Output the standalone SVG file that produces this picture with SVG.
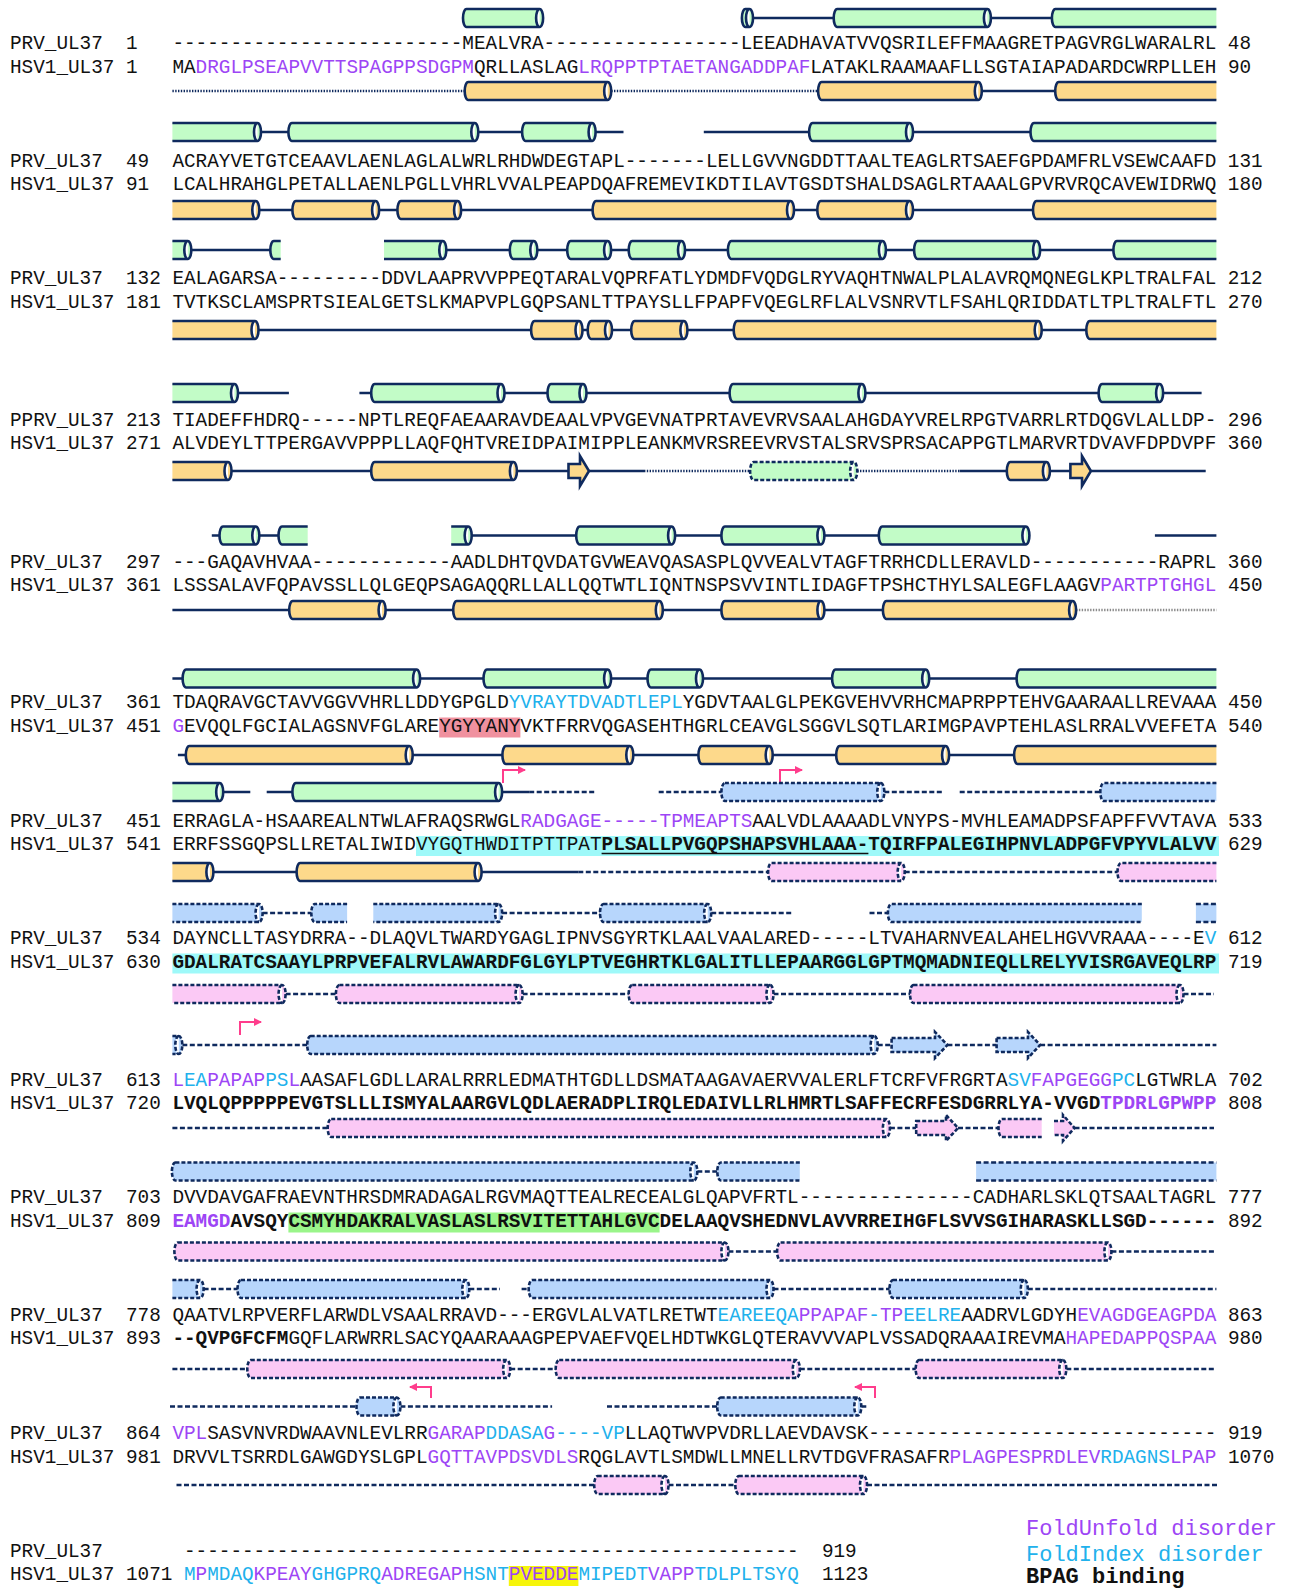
<svg xmlns="http://www.w3.org/2000/svg" width="1292" height="1588" viewBox="0 0 1292 1588">
<style>
.t{font-family:"Liberation Mono","Courier New",monospace;font-size:19.33px;fill:#111}
.lg{font-family:"Liberation Mono","Courier New",monospace;font-size:22px}
.b{font-weight:bold}
.p{fill:#9d45f5}
.c{fill:#21b1ec}
.k{fill:#111}
.g{fill:#c2fcc7;stroke:#0f2a5e;stroke-width:2.6}
.o{fill:#fdd98b;stroke:#0f2a5e;stroke-width:2.6}
.gd{fill:#c2fcc7;stroke:#0f2a5e;stroke-width:2.6;stroke-dasharray:4 2}
.bu{fill:#b7d6fc;stroke:#0f2a5e;stroke-width:2.6;stroke-dasharray:4 2}
.pk{fill:#fbc9f5;stroke:#0f2a5e;stroke-width:2.6;stroke-dasharray:4 2}
.buf{fill:#b7d6fc}
.ln{stroke:#0f2a5e;stroke-width:2.6;fill:none}
.dl{stroke:#0f2a5e;stroke-width:2.6;fill:none;stroke-dasharray:5 2.5}
.dt{stroke:#0f2a5e;stroke-width:2.6;fill:none;stroke-dasharray:1.4 1.4}
.gy{stroke:#8a8a8a;stroke-width:2.4;fill:none;stroke-dasharray:1.4 1.4}
.ar{stroke:#ff3d8c;stroke-width:2;fill:none;marker-end:url(#ah)}
</style>
<defs>
<marker id="ah" markerUnits="userSpaceOnUse" markerWidth="9" markerHeight="9" refX="7" refY="4.5" orient="auto"><path d="M0,0.5 L8,4.5 L0,8.5 Z" fill="#ff3d8c"/></marker>
</defs>

<g id="highlights">
<rect x="439.2" y="717.5" width="81.2" height="20" fill="#f0919f"/>
<rect x="416" y="836" width="803" height="20" fill="#9ef9f9"/>
<rect x="172.4" y="953.5" width="1046.6" height="20" fill="#9ef9f9"/>
<rect x="288.4" y="1212.5" width="371.2" height="20" fill="#9af58a"/>
<rect x="508.8" y="1566" width="69.6" height="20" fill="#f6f50a"/>
</g>

<g id="connectors">
<path class="ln" d="M753,18H834.2M990.9,18H1052.4"/>
<path class="dt" d="M172.4,91H465.2M611.2,91H818.6"/>
<path class="ln" d="M981.8,91H1055.7"/>
<path class="ln" d="M261,132H288.9M478.3,132H522.6M595.6,132H623.5M703.8,132H809.6M913,132H1031"/>
<path class="ln" d="M259.3,210H292.9M379.1,210H397.9M461.1,210H593.1M794,210H817.8M913,210H1033.5"/>
<path class="ln" d="M191.3,250H270.8M446.3,250H510.3M537.3,250H567.7M611.1,250H629.2M685,250H728.4M885.9,250H914.6M1040.1,250H1113.9"/>
<path class="ln" d="M258.5,330H531.6M582.5,330H588.2M612,330H631.7M687.4,330H734.2M1041.7,330H1086.8"/>
<path class="ln" d="M238,393H288.9M359.4,393H371.7M504.5,393H548M586.5,393H730.1M865.4,393H1099.1M1163.1,393H1201.6"/>
<path class="ln" d="M231.5,471H371.7M516.9,471H568.5M589,471H644M959.7,471H1007.3M1049.9,471H1070.4M1090.9,471H1205.7"/>
<path class="dt" d="M644,471H750.6M857.2,471H959.7"/>
<path class="ln" d="M211.8,535.5H220M259.3,535.5H279M471.7,535.5H576.7M675.1,535.5H721.9M824.4,535.5H879.3M1154.9,535.5H1216.4"/>
<path class="ln" d="M172.4,610H289.7M385.6,610H453.7M662.8,610H721.9M824.4,610H883.4"/>
<path class="gy" d="M1076.1,610H1216.4"/>
<path class="ln" d="M172.4,678.5H183.1M420.1,678.5H484M611.1,678.5H648M703,678.5H832.6M929.2,678.5H1017.1"/>
<path class="ln" d="M177.9,755H186.3M412.7,755H502.9M633.3,755H698.9M772.7,755H836.7M949.1,755H1014.6"/>
<path class="ln" d="M223.2,792H250.3M266.7,792H292.9M502.1,792H529.2"/>
<path class="dl" d="M529.2,792H594.8M658.7,792H721.9M884.3,792H941.8M959.7,792H1100.8"/>
<path class="ln" d="M213.4,872H297.1M481.6,872H578.3"/>
<path class="dl" d="M578.3,872H768.6M904.7,872H1118"/>
<path class="dl" d="M262.6,913H311.8M502.1,913H600.5M711.2,913H791.5M869.5,913H888.4"/>
<path class="dl" d="M285.6,994H336.4M522.6,994H629.2M773.5,994H910.5M1183.5,994H1214"/>
<path class="dl" d="M182.3,1045H307.7M877.7,1045H891.6M947.4,1045H996.6M1040.1,1045H1216.4"/>
<path class="dl" d="M172.4,1128H328.2M889.9,1128H916.2M958,1128H999M1074.5,1128H1214"/>
<path class="dl" d="M697.3,1171.5H717.8"/>
<path class="dl" d="M728.4,1251.5H777.6M1111.4,1251.5H1216.4"/>
<path class="dl" d="M203.6,1289H238M469.3,1289H500M521.6,1289H529.2M773.5,1289H890M1027.8,1289H1216.4"/>
<path class="dl" d="M172.4,1369H247.8M510.2,1369H556.2M799.8,1369H916.2M1066.3,1369H1214"/>
<path class="dl" d="M170,1406.5H357M400.4,1406.5H552.1M607,1406.5H717.7M861.3,1406.5H867"/>
<path class="dl" d="M176.5,1485H594.7M668.5,1485H735.8M867,1485H1219"/>
<polyline class="ar" points="503,783 503,770 525,770"/>
<polyline class="ar" points="780,783 780,770 802,770"/>
<polyline class="ar" points="240,1035 240,1022 261,1022"/>
<polyline class="ar" points="431,1398 431,1387 410,1387"/>
<polyline class="ar" points="875,1398 875,1387 855,1387"/>
</g>

<g id="structure1">
<path class="g" d="M466.5,9H539.6A3.5 9 0 0 1 539.6,27H466.5A3.5 9 0 0 1 466.5,9ZM539.6,9A3.5 9 0 0 0 539.6,27"/>
<path class="g" d="M745.4,9H749.5A3.5 9 0 0 1 749.5,27H745.4A3.5 9 0 0 1 745.4,9ZM749.5,9A3.5 9 0 0 0 749.5,27"/>
<path class="g" d="M837.2,9H987.4A3.5 9 0 0 1 987.4,27H837.2A3.5 9 0 0 1 837.2,9ZM987.4,9A3.5 9 0 0 0 987.4,27"/>
<path class="g" d="M1216.4,9H1055.4A3.5 9 0 0 0 1055.4,27H1216.4"/>
<path class="o" d="M468.2,82H607.7A3.5 9 0 0 1 607.7,100H468.2A3.5 9 0 0 1 468.2,82ZM607.7,82A3.5 9 0 0 0 607.7,100"/>
<path class="o" d="M821.6,82H978.3A3.5 9 0 0 1 978.3,100H821.6A3.5 9 0 0 1 821.6,82ZM978.3,82A3.5 9 0 0 0 978.3,100"/>
<path class="o" d="M1216.4,82H1058.7A3.5 9 0 0 0 1058.7,100H1216.4"/>
</g>
<g id="structure2">
<path class="g" d="M172.4,123H257.5A3.5 9 0 0 1 257.5,141H172.4M257.5,123A3.5 9 0 0 0 257.5,141"/>
<path class="g" d="M291.9,123H474.8A3.5 9 0 0 1 474.8,141H291.9A3.5 9 0 0 1 291.9,123ZM474.8,123A3.5 9 0 0 0 474.8,141"/>
<path class="g" d="M525.6,123H592.1A3.5 9 0 0 1 592.1,141H525.6A3.5 9 0 0 1 525.6,123ZM592.1,123A3.5 9 0 0 0 592.1,141"/>
<path class="g" d="M812.6,123H909.5A3.5 9 0 0 1 909.5,141H812.6A3.5 9 0 0 1 812.6,123ZM909.5,123A3.5 9 0 0 0 909.5,141"/>
<path class="g" d="M1216.4,123H1034A3.5 9 0 0 0 1034,141H1216.4"/>
<path class="o" d="M172.4,201H255.8A3.5 9 0 0 1 255.8,219H172.4M255.8,201A3.5 9 0 0 0 255.8,219"/>
<path class="o" d="M295.9,201H375.6A3.5 9 0 0 1 375.6,219H295.9A3.5 9 0 0 1 295.9,201ZM375.6,201A3.5 9 0 0 0 375.6,219"/>
<path class="o" d="M400.9,201H457.6A3.5 9 0 0 1 457.6,219H400.9A3.5 9 0 0 1 400.9,201ZM457.6,201A3.5 9 0 0 0 457.6,219"/>
<path class="o" d="M596.1,201H790.5A3.5 9 0 0 1 790.5,219H596.1A3.5 9 0 0 1 596.1,201ZM790.5,201A3.5 9 0 0 0 790.5,219"/>
<path class="o" d="M820.8,201H909.5A3.5 9 0 0 1 909.5,219H820.8A3.5 9 0 0 1 820.8,201ZM909.5,201A3.5 9 0 0 0 909.5,219"/>
<path class="o" d="M1216.4,201H1036.5A3.5 9 0 0 0 1036.5,219H1216.4"/>
</g>
<g id="structure3">
<path class="g" d="M172.4,241H187.8A3.5 9 0 0 1 187.8,259H172.4M187.8,241A3.5 9 0 0 0 187.8,259"/>
<path class="g" d="M280.7,241H273.8A3.5 9 0 0 0 273.8,259H280.7"/>
<path class="g" d="M384,241H442.8A3.5 9 0 0 1 442.8,259H384M442.8,241A3.5 9 0 0 0 442.8,259"/>
<path class="g" d="M513.3,241H533.8A3.5 9 0 0 1 533.8,259H513.3A3.5 9 0 0 1 513.3,241ZM533.8,241A3.5 9 0 0 0 533.8,259"/>
<path class="g" d="M570.7,241H607.6A3.5 9 0 0 1 607.6,259H570.7A3.5 9 0 0 1 570.7,241ZM607.6,241A3.5 9 0 0 0 607.6,259"/>
<path class="g" d="M632.2,241H681.5A3.5 9 0 0 1 681.5,259H632.2A3.5 9 0 0 1 632.2,241ZM681.5,241A3.5 9 0 0 0 681.5,259"/>
<path class="g" d="M731.4,241H882.4A3.5 9 0 0 1 882.4,259H731.4A3.5 9 0 0 1 731.4,241ZM882.4,241A3.5 9 0 0 0 882.4,259"/>
<path class="g" d="M917.6,241H1036.6A3.5 9 0 0 1 1036.6,259H917.6A3.5 9 0 0 1 917.6,241ZM1036.6,241A3.5 9 0 0 0 1036.6,259"/>
<path class="g" d="M1216.4,241H1116.9A3.5 9 0 0 0 1116.9,259H1216.4"/>
<path class="o" d="M172.4,321H255A3.5 9 0 0 1 255,339H172.4M255,321A3.5 9 0 0 0 255,339"/>
<path class="o" d="M534.6,321H579A3.5 9 0 0 1 579,339H534.6A3.5 9 0 0 1 534.6,321ZM579,321A3.5 9 0 0 0 579,339"/>
<path class="o" d="M591.2,321H608.5A3.5 9 0 0 1 608.5,339H591.2A3.5 9 0 0 1 591.2,321ZM608.5,321A3.5 9 0 0 0 608.5,339"/>
<path class="o" d="M634.7,321H683.9A3.5 9 0 0 1 683.9,339H634.7A3.5 9 0 0 1 634.7,321ZM683.9,321A3.5 9 0 0 0 683.9,339"/>
<path class="o" d="M737.2,321H1038.2A3.5 9 0 0 1 1038.2,339H737.2A3.5 9 0 0 1 737.2,321ZM1038.2,321A3.5 9 0 0 0 1038.2,339"/>
<path class="o" d="M1216.4,321H1089.8A3.5 9 0 0 0 1089.8,339H1216.4"/>
</g>
<g id="structure4">
<path class="g" d="M172.4,384H234.5A3.5 9 0 0 1 234.5,402H172.4M234.5,384A3.5 9 0 0 0 234.5,402"/>
<path class="g" d="M374.7,384H501A3.5 9 0 0 1 501,402H374.7A3.5 9 0 0 1 374.7,384ZM501,384A3.5 9 0 0 0 501,402"/>
<path class="g" d="M551,384H583A3.5 9 0 0 1 583,402H551A3.5 9 0 0 1 551,384ZM583,384A3.5 9 0 0 0 583,402"/>
<path class="g" d="M733.1,384H861.9A3.5 9 0 0 1 861.9,402H733.1A3.5 9 0 0 1 733.1,384ZM861.9,384A3.5 9 0 0 0 861.9,402"/>
<path class="g" d="M1102.1,384H1159.6A3.5 9 0 0 1 1159.6,402H1102.1A3.5 9 0 0 1 1102.1,384ZM1159.6,384A3.5 9 0 0 0 1159.6,402"/>
<path class="o" d="M172.4,462H228A3.5 9 0 0 1 228,480H172.4M228,462A3.5 9 0 0 0 228,480"/>
<path class="o" d="M374.7,462H513.4A3.5 9 0 0 1 513.4,480H374.7A3.5 9 0 0 1 374.7,462ZM513.4,462A3.5 9 0 0 0 513.4,480"/>
<path class="o" d="M568.5,464H580V456L589,471L580,486V478H568.5Z"/>
<path class="gd" d="M753.6,462H853.7A3.5 9 0 0 1 853.7,480H753.6A3.5 9 0 0 1 753.6,462ZM853.7,462A3.5 9 0 0 0 853.7,480"/>
<path class="o" d="M1010.3,462H1046.4A3.5 9 0 0 1 1046.4,480H1010.3A3.5 9 0 0 1 1010.3,462ZM1046.4,462A3.5 9 0 0 0 1046.4,480"/>
<path class="o" d="M1070.4,464H1082V456L1090.9,471L1082,486V478H1070.4Z"/>
</g>
<g id="structure5">
<path class="g" d="M223,526.5H255.8A3.5 9 0 0 1 255.8,544.5H223A3.5 9 0 0 1 223,526.5ZM255.8,526.5A3.5 9 0 0 0 255.8,544.5"/>
<path class="g" d="M307.7,526.5H282A3.5 9 0 0 0 282,544.5H307.7"/>
<path class="g" d="M451.2,526.5H468.2A3.5 9 0 0 1 468.2,544.5H451.2M468.2,526.5A3.5 9 0 0 0 468.2,544.5"/>
<path class="g" d="M579.7,526.5H671.6A3.5 9 0 0 1 671.6,544.5H579.7A3.5 9 0 0 1 579.7,526.5ZM671.6,526.5A3.5 9 0 0 0 671.6,544.5"/>
<path class="g" d="M724.9,526.5H820.9A3.5 9 0 0 1 820.9,544.5H724.9A3.5 9 0 0 1 724.9,526.5ZM820.9,526.5A3.5 9 0 0 0 820.9,544.5"/>
<path class="g" d="M882.3,526.5H1025.9A3.5 9 0 0 1 1025.9,544.5H882.3A3.5 9 0 0 1 882.3,526.5ZM1025.9,526.5A3.5 9 0 0 0 1025.9,544.5"/>
<path class="o" d="M292.7,601H382.1A3.5 9 0 0 1 382.1,619H292.7A3.5 9 0 0 1 292.7,601ZM382.1,601A3.5 9 0 0 0 382.1,619"/>
<path class="o" d="M456.7,601H659.3A3.5 9 0 0 1 659.3,619H456.7A3.5 9 0 0 1 456.7,601ZM659.3,601A3.5 9 0 0 0 659.3,619"/>
<path class="o" d="M724.9,601H820.9A3.5 9 0 0 1 820.9,619H724.9A3.5 9 0 0 1 724.9,601ZM820.9,601A3.5 9 0 0 0 820.9,619"/>
<path class="o" d="M886.4,601H1072.6A3.5 9 0 0 1 1072.6,619H886.4A3.5 9 0 0 1 886.4,601ZM1072.6,601A3.5 9 0 0 0 1072.6,619"/>
</g>
<g id="structure6">
<path class="g" d="M186.1,669.5H416.6A3.5 9 0 0 1 416.6,687.5H186.1A3.5 9 0 0 1 186.1,669.5ZM416.6,669.5A3.5 9 0 0 0 416.6,687.5"/>
<path class="g" d="M487,669.5H607.6A3.5 9 0 0 1 607.6,687.5H487A3.5 9 0 0 1 487,669.5ZM607.6,669.5A3.5 9 0 0 0 607.6,687.5"/>
<path class="g" d="M651,669.5H699.5A3.5 9 0 0 1 699.5,687.5H651A3.5 9 0 0 1 651,669.5ZM699.5,669.5A3.5 9 0 0 0 699.5,687.5"/>
<path class="g" d="M835.6,669.5H925.7A3.5 9 0 0 1 925.7,687.5H835.6A3.5 9 0 0 1 835.6,669.5ZM925.7,669.5A3.5 9 0 0 0 925.7,687.5"/>
<path class="g" d="M1216.4,669.5H1020.1A3.5 9 0 0 0 1020.1,687.5H1216.4"/>
<path class="o" d="M189.3,746H409.2A3.5 9 0 0 1 409.2,764H189.3A3.5 9 0 0 1 189.3,746ZM409.2,746A3.5 9 0 0 0 409.2,764"/>
<path class="o" d="M505.9,746H629.8A3.5 9 0 0 1 629.8,764H505.9A3.5 9 0 0 1 505.9,746ZM629.8,746A3.5 9 0 0 0 629.8,764"/>
<path class="o" d="M701.9,746H769.2A3.5 9 0 0 1 769.2,764H701.9A3.5 9 0 0 1 701.9,746ZM769.2,746A3.5 9 0 0 0 769.2,764"/>
<path class="o" d="M839.7,746H945.6A3.5 9 0 0 1 945.6,764H839.7A3.5 9 0 0 1 839.7,746ZM945.6,746A3.5 9 0 0 0 945.6,764"/>
<path class="o" d="M1216.4,746H1017.6A3.5 9 0 0 0 1017.6,764H1216.4"/>
</g>
<g id="structure7">
<path class="g" d="M172.4,783H219.7A3.5 9 0 0 1 219.7,801H172.4M219.7,783A3.5 9 0 0 0 219.7,801"/>
<path class="g" d="M295.9,783H498.6A3.5 9 0 0 1 498.6,801H295.9A3.5 9 0 0 1 295.9,783ZM498.6,783A3.5 9 0 0 0 498.6,801"/>
<path class="bu" d="M724.9,783H880.8A3.5 9 0 0 1 880.8,801H724.9A3.5 9 0 0 1 724.9,783ZM880.8,783A3.5 9 0 0 0 880.8,801"/>
<path class="bu" d="M1216.4,783H1103.8A3.5 9 0 0 0 1103.8,801H1216.4"/>
<path class="o" d="M172.4,863H209.9A3.5 9 0 0 1 209.9,881H172.4M209.9,863A3.5 9 0 0 0 209.9,881"/>
<path class="o" d="M300.1,863H478.1A3.5 9 0 0 1 478.1,881H300.1A3.5 9 0 0 1 300.1,863ZM478.1,863A3.5 9 0 0 0 478.1,881"/>
<path class="pk" d="M771.6,863H901.2A3.5 9 0 0 1 901.2,881H771.6A3.5 9 0 0 1 771.6,863ZM901.2,863A3.5 9 0 0 0 901.2,881"/>
<path class="pk" d="M1216.4,863H1121A3.5 9 0 0 0 1121,881H1216.4"/>
</g>
<g id="structure8">
<path class="bu" d="M172.4,904H259.1A3.5 9 0 0 1 259.1,922H172.4M259.1,904A3.5 9 0 0 0 259.1,922"/>
<path class="bu" d="M347.1,904H314.8A3.5 9 0 0 0 314.8,922H347.1"/>
<path class="bu" d="M373.3,904H498.6A3.5 9 0 0 1 498.6,922H373.3M498.6,904A3.5 9 0 0 0 498.6,922"/>
<path class="bu" d="M603.5,904H707.7A3.5 9 0 0 1 707.7,922H603.5A3.5 9 0 0 1 603.5,904ZM707.7,904A3.5 9 0 0 0 707.7,922"/>
<path class="bu" d="M1141.8,904H891.4A3.5 9 0 0 0 891.4,922H1141.8"/>
<rect class="buf" x="1195.9" y="904" width="20.5" height="18"/>
<path class="dl" d="M1195.9,904H1216.4M1195.9,922H1216.4"/>
<path class="pk" d="M172.4,985H282.1A3.5 9 0 0 1 282.1,1003H172.4M282.1,985A3.5 9 0 0 0 282.1,1003"/>
<path class="pk" d="M339.4,985H519.1A3.5 9 0 0 1 519.1,1003H339.4A3.5 9 0 0 1 339.4,985ZM519.1,985A3.5 9 0 0 0 519.1,1003"/>
<path class="pk" d="M632.2,985H770A3.5 9 0 0 1 770,1003H632.2A3.5 9 0 0 1 632.2,985ZM770,985A3.5 9 0 0 0 770,1003"/>
<path class="pk" d="M913.5,985H1180A3.5 9 0 0 1 1180,1003H913.5A3.5 9 0 0 1 913.5,985ZM1180,985A3.5 9 0 0 0 1180,1003"/>
</g>
<g id="structure9">
<path class="bu" d="M172.4,1036H178.8A3.5 9 0 0 1 178.8,1054H172.4M178.8,1036A3.5 9 0 0 0 178.8,1054"/>
<path class="bu" d="M310.7,1036H874.2A3.5 9 0 0 1 874.2,1054H310.7A3.5 9 0 0 1 310.7,1036ZM874.2,1036A3.5 9 0 0 0 874.2,1054"/>
<path class="bu" d="M891.6,1038H935V1032L947.4,1045L935,1058V1052H891.6Z"/>
<path class="bu" d="M996.6,1038H1028V1032L1040.1,1045L1028,1058V1052H996.6Z"/>
<path class="pk" d="M331.2,1119H886.4A3.5 9 0 0 1 886.4,1137H331.2A3.5 9 0 0 1 331.2,1119ZM886.4,1119A3.5 9 0 0 0 886.4,1137"/>
<path class="pk" d="M916.2,1121H946V1115L958,1128L946,1141V1135H916.2Z"/>
<path class="pk" d="M1041.7,1119H1002A3.5 9 0 0 0 1002,1137H1041.7"/>
<path class="pk" d="M1054,1121H1063V1115L1074.5,1128L1063,1141V1135H1054"/>
</g>
<g id="structure10">
<path class="bu" d="M175.4,1162.5H693.8A3.5 9 0 0 1 693.8,1180.5H175.4A3.5 9 0 0 1 175.4,1162.5ZM693.8,1162.5A3.5 9 0 0 0 693.8,1180.5"/>
<path class="bu" d="M799.8,1162.5H720.8A3.5 9 0 0 0 720.8,1180.5H799.8"/>
<rect class="buf" x="976.1" y="1162.5" width="240.3" height="18"/>
<path class="dl" d="M976.1,1162.5H1216.4M976.1,1180.5H1216.4"/>
<path class="pk" d="M177.9,1242.5H724.9A3.5 9 0 0 1 724.9,1260.5H177.9A3.5 9 0 0 1 177.9,1242.5ZM724.9,1242.5A3.5 9 0 0 0 724.9,1260.5"/>
<path class="pk" d="M780.6,1242.5H1107.9A3.5 9 0 0 1 1107.9,1260.5H780.6A3.5 9 0 0 1 780.6,1242.5ZM1107.9,1242.5A3.5 9 0 0 0 1107.9,1260.5"/>
</g>
<g id="structure11">
<path class="bu" d="M172.4,1280H200.1A3.5 9 0 0 1 200.1,1298H172.4M200.1,1280A3.5 9 0 0 0 200.1,1298"/>
<path class="bu" d="M241,1280H465.8A3.5 9 0 0 1 465.8,1298H241A3.5 9 0 0 1 241,1280ZM465.8,1280A3.5 9 0 0 0 465.8,1298"/>
<path class="bu" d="M532.2,1280H770A3.5 9 0 0 1 770,1298H532.2A3.5 9 0 0 1 532.2,1280ZM770,1280A3.5 9 0 0 0 770,1298"/>
<path class="bu" d="M893,1280H1024.3A3.5 9 0 0 1 1024.3,1298H893A3.5 9 0 0 1 893,1280ZM1024.3,1280A3.5 9 0 0 0 1024.3,1298"/>
<path class="pk" d="M250.8,1360H506.7A3.5 9 0 0 1 506.7,1378H250.8A3.5 9 0 0 1 250.8,1360ZM506.7,1360A3.5 9 0 0 0 506.7,1378"/>
<path class="pk" d="M559.2,1360H796.3A3.5 9 0 0 1 796.3,1378H559.2A3.5 9 0 0 1 559.2,1360ZM796.3,1360A3.5 9 0 0 0 796.3,1378"/>
<path class="pk" d="M919.2,1360H1062.8A3.5 9 0 0 1 1062.8,1378H919.2A3.5 9 0 0 1 919.2,1360ZM1062.8,1360A3.5 9 0 0 0 1062.8,1378"/>
</g>
<g id="structure12">
<path class="bu" d="M360,1397.5H396.9A3.5 9 0 0 1 396.9,1415.5H360A3.5 9 0 0 1 360,1397.5ZM396.9,1397.5A3.5 9 0 0 0 396.9,1415.5"/>
<path class="bu" d="M720.7,1397.5H857.8A3.5 9 0 0 1 857.8,1415.5H720.7A3.5 9 0 0 1 720.7,1397.5ZM857.8,1397.5A3.5 9 0 0 0 857.8,1415.5"/>
<path class="pk" d="M597.7,1476H665A3.5 9 0 0 1 665,1494H597.7A3.5 9 0 0 1 597.7,1476ZM665,1476A3.5 9 0 0 0 665,1494"/>
<path class="pk" d="M738.8,1476H863.5A3.5 9 0 0 1 863.5,1494H738.8A3.5 9 0 0 1 738.8,1476ZM863.5,1476A3.5 9 0 0 0 863.5,1494"/>
</g>

<g id="sequences">
<text class="t" x="10" y="49" xml:space="preserve">PRV_UL37  1   -------------------------MEALVRA-----------------LEEADHAVATVVQSRILEFFMAAGRETPAGVRGLWARALRL 48</text>
<text class="t" x="10" y="72.5" xml:space="preserve">HSV1_UL37 1   MA<tspan class="p">DRGLPSEAPVVTTSPAGPPSDGPM</tspan>QRLLASLAG<tspan class="p">LRQPPTPTAETANGADDPAF</tspan>LATAKLRAAMAAFLLSGTAIAPADARDCWRPLLEH 90</text>
<text class="t" x="10" y="166.5" xml:space="preserve">PRV_UL37  49  ACRAYVETGTCEAAVLAENLAGLALWRLRHDWDEGTAPL-------LELLGVVNGDDTTAALTEAGLRTSAEFGPDAMFRLVSEWCAAFD 131</text>
<text class="t" x="10" y="190" xml:space="preserve">HSV1_UL37 91  LCALHRAHGLPETALLAENLPGLLVHRLVVALPEAPDQAFREMEVIKDTILAVTGSDTSHALDSAGLRTAAALGPVRVRQCAVEWIDRWQ 180</text>
<text class="t" x="10" y="284" xml:space="preserve">PRV_UL37  132 EALAGARSA---------DDVLAAPRVVPPEQTARALVQPRFATLYDMDFVQDGLRYVAQHTNWALPLALAVRQMQNEGLKPLTRALFAL 212</text>
<text class="t" x="10" y="307.5" xml:space="preserve">HSV1_UL37 181 TVTKSCLAMSPRTSIEALGETSLKMAPVPLGQPSANLTTPAYSLLFPAPFVQEGLRFLALVSNRVTLFSAHLQRIDDATLTPLTRALFTL 270</text>
<text class="t" x="10" y="425.5" xml:space="preserve">PPRV_UL37 213 TIADEFFHDRQ-----NPTLREQFAEAARAVDEAALVPVGEVNATPRTAVEVRVSAALAHGDAYVRELRPGTVARRLRTDQGVLALLDP- 296</text>
<text class="t" x="10" y="449" xml:space="preserve">HSV1_UL37 271 ALVDEYLTTPERGAVVPPPLLAQFQHTVREIDPAIMIPPLEANKMVRSREEVRVSTALSRVSPRSACAPPGTLMARVRTDVAVFDPDVPF 360</text>
<text class="t" x="10" y="567.5" xml:space="preserve">PRV_UL37  297 ---GAQAVHVAA------------AADLDHTQVDATGVWEAVQASASPLQVVEALVTAGFTRRHCDLLERAVLD-----------RAPRL 360</text>
<text class="t" x="10" y="591" xml:space="preserve">HSV1_UL37 361 LSSSALAVFQPAVSSLLQLGEQPSAGAQQRLLALLQQTWTLIQNTNSPSVVINTLIDAGFTPSHCTHYLSALEGFLAAGV<tspan class="p">PARTPTGHGL</tspan> 450</text>
<text class="t" x="10" y="708" xml:space="preserve">PRV_UL37  361 TDAQRAVGCTAVVGGVVHRLLDDYGPGLD<tspan class="c">YVRAYTDVADTLEPL</tspan>YGDVTAALGLPEKGVEHVVRHCMAPRPPTEHVGAARAALLREVAAA 450</text>
<text class="t" x="10" y="731.5" xml:space="preserve">HSV1_UL37 451 <tspan class="p">G</tspan>EVQQLFGCIALAGSNVFGLAREYGYYANYVKTFRRVQGASEHTHGRLCEAVGLSGGVLSQTLARIMGPAVPTEHLASLRRALVVEFETA 540</text>
<text class="t" x="10" y="826.5" xml:space="preserve">PRV_UL37  451 ERRAGLA-HSAAREALNTWLAFRAQSRWGL<tspan class="p">RADGAGE-----TPMEAPTS</tspan>AALVDLAAAADLVNYPS-MVHLEAMADPSFAPFFVVTAVA 533</text>
<text class="t" x="10" y="850" xml:space="preserve">HSV1_UL37 541 ERRFSSGQPSLLRETALIWIDVYGQTHWDITPTTPAT<tspan class="b">PLSALLPVGQPSHAPSVHLAAA-TQIRFPALEGIHPNVLADPGFVPYVLALVV</tspan> 629</text>
<line x1="601.6" y1="853.5" x2="868.4" y2="853.5" stroke="#111" stroke-width="1.6"/>
<text class="t" x="10" y="944" xml:space="preserve">PRV_UL37  534 DAYNCLLTASYDRRA--DLAQVLTWARDYGAGLIPNVSGYRTKLAALVAALARED-----LTVAHARNVEALAHELHGVVRAAA----E<tspan class="c">V</tspan> 612</text>
<text class="t" x="10" y="967.5" xml:space="preserve">HSV1_UL37 630 <tspan class="b">GDALRATCSAAYLPRPVEFALRVLAWARDFGLGYLPTVEGHRTKLGALITLLEPAARGGLGPTMQMADNIEQLLRELYVISRGAVEQLRP</tspan> 719</text>
<text class="t" x="10" y="1085.5" xml:space="preserve">PRV_UL37  613 <tspan class="p">L</tspan><tspan class="c">EA</tspan><tspan class="p">PAPAP</tspan><tspan class="c">PS</tspan><tspan class="p">L</tspan>AASAFLGDLLARALRRRLEDMATHTGDLLDSMATAAGAVAERVVALERLFTCRFVFRGRTA<tspan class="c">SV</tspan><tspan class="p">FAPGEGG</tspan><tspan class="c">PC</tspan>LGTWRLA 702</text>
<text class="t" x="10" y="1109" xml:space="preserve">HSV1_UL37 720 <tspan class="b">LVQLQPPPPPEVGTSLLLISMYALAARGVLQDLAERADPLIRQLEDAIVLLRLHMRTLSAFFECRFESDGRRLYA-VVGD<tspan class="p">TPDRLGPWPP</tspan></tspan> 808</text>
<text class="t" x="10" y="1203" xml:space="preserve">PRV_UL37  703 DVVDAVGAFRAEVNTHRSDMRADAGALRGVMAQTTEALRECEALGLQAPVFRTL---------------CADHARLSKLQTSAALTAGRL 777</text>
<text class="t" x="10" y="1226.5" xml:space="preserve">HSV1_UL37 809 <tspan class="b"><tspan class="p">EAMGD</tspan>AVSQYCSMYHDAKRALVASLASLRSVITETTAHLGVCDELAAQVSHEDNVLAVVRREIHGFLSVVSGIHARASKLLSGD------</tspan> 892</text>
<text class="t" x="10" y="1320.5" xml:space="preserve">PRV_UL37  778 QAATVLRPVERFLARWDLVSAALRRAVD---ERGVLALVATLRETWT<tspan class="c">EAREEQA</tspan><tspan class="p">PPAPAF</tspan><tspan class="c">-</tspan><tspan class="p">TP</tspan><tspan class="c">EELRE</tspan>AADRVLGDYH<tspan class="p">EVAGDGEAGPDA</tspan> 863</text>
<text class="t" x="10" y="1344" xml:space="preserve">HSV1_UL37 893 <tspan class="b">--QVPGFCFM</tspan>GQFLARWRRLSACYQAARAAAGPEPVAEFVQELHDTWKGLQTERAVVVAPLVSSADQRAAAIREVMA<tspan class="p">HAPEDAPPQSPAA</tspan> 980</text>
<text class="t" x="10" y="1439" xml:space="preserve">PRV_UL37  864 <tspan class="p">VPL</tspan>SASVNVRDWAAVNLEVLRR<tspan class="p">GARAP</tspan><tspan class="c">DDASA</tspan><tspan class="p">G</tspan><tspan class="c">----VP</tspan>LLAQTWVPVDRLLAEVDAVSK------------------------------ 919</text>
<text class="t" x="10" y="1462.5" xml:space="preserve">HSV1_UL37 981 DRVVLTSRRDLGAWGDYSLGPL<tspan class="p">GQTTAVPDSVDLS</tspan>RQGLAVTLSMDWLLMNELLRVTDGVFRASAFR<tspan class="p">PLAGPESPRDLEV</tspan><tspan class="c">RDAGNS</tspan><tspan class="p">LPAP</tspan> 1070</text>
<text class="t" x="10" y="1556.5" xml:space="preserve">PRV_UL37       -----------------------------------------------------  919</text>
<text class="t" x="10" y="1580" xml:space="preserve">HSV1_UL37 1071 <tspan class="c">M</tspan><tspan class="p">P</tspan><tspan class="c">MDAQ</tspan><tspan class="p">KPEAY</tspan><tspan class="c">GHGPRQ</tspan><tspan class="p">ADREGAP</tspan><tspan class="c">HSNT</tspan><tspan class="p">PVEDDE</tspan><tspan class="c">MIPEDT</tspan><tspan class="p">VAPP</tspan><tspan class="c">TDLPLTSYQ</tspan>  1123</text>
</g>

<g id="legend">
<text class="lg p" x="1026" y="1535">FoldUnfold disorder</text>
<text class="lg c" x="1026" y="1561">FoldIndex disorder</text>
<text class="lg b k" x="1026" y="1583">BPAG binding</text>
</g>
</svg>
